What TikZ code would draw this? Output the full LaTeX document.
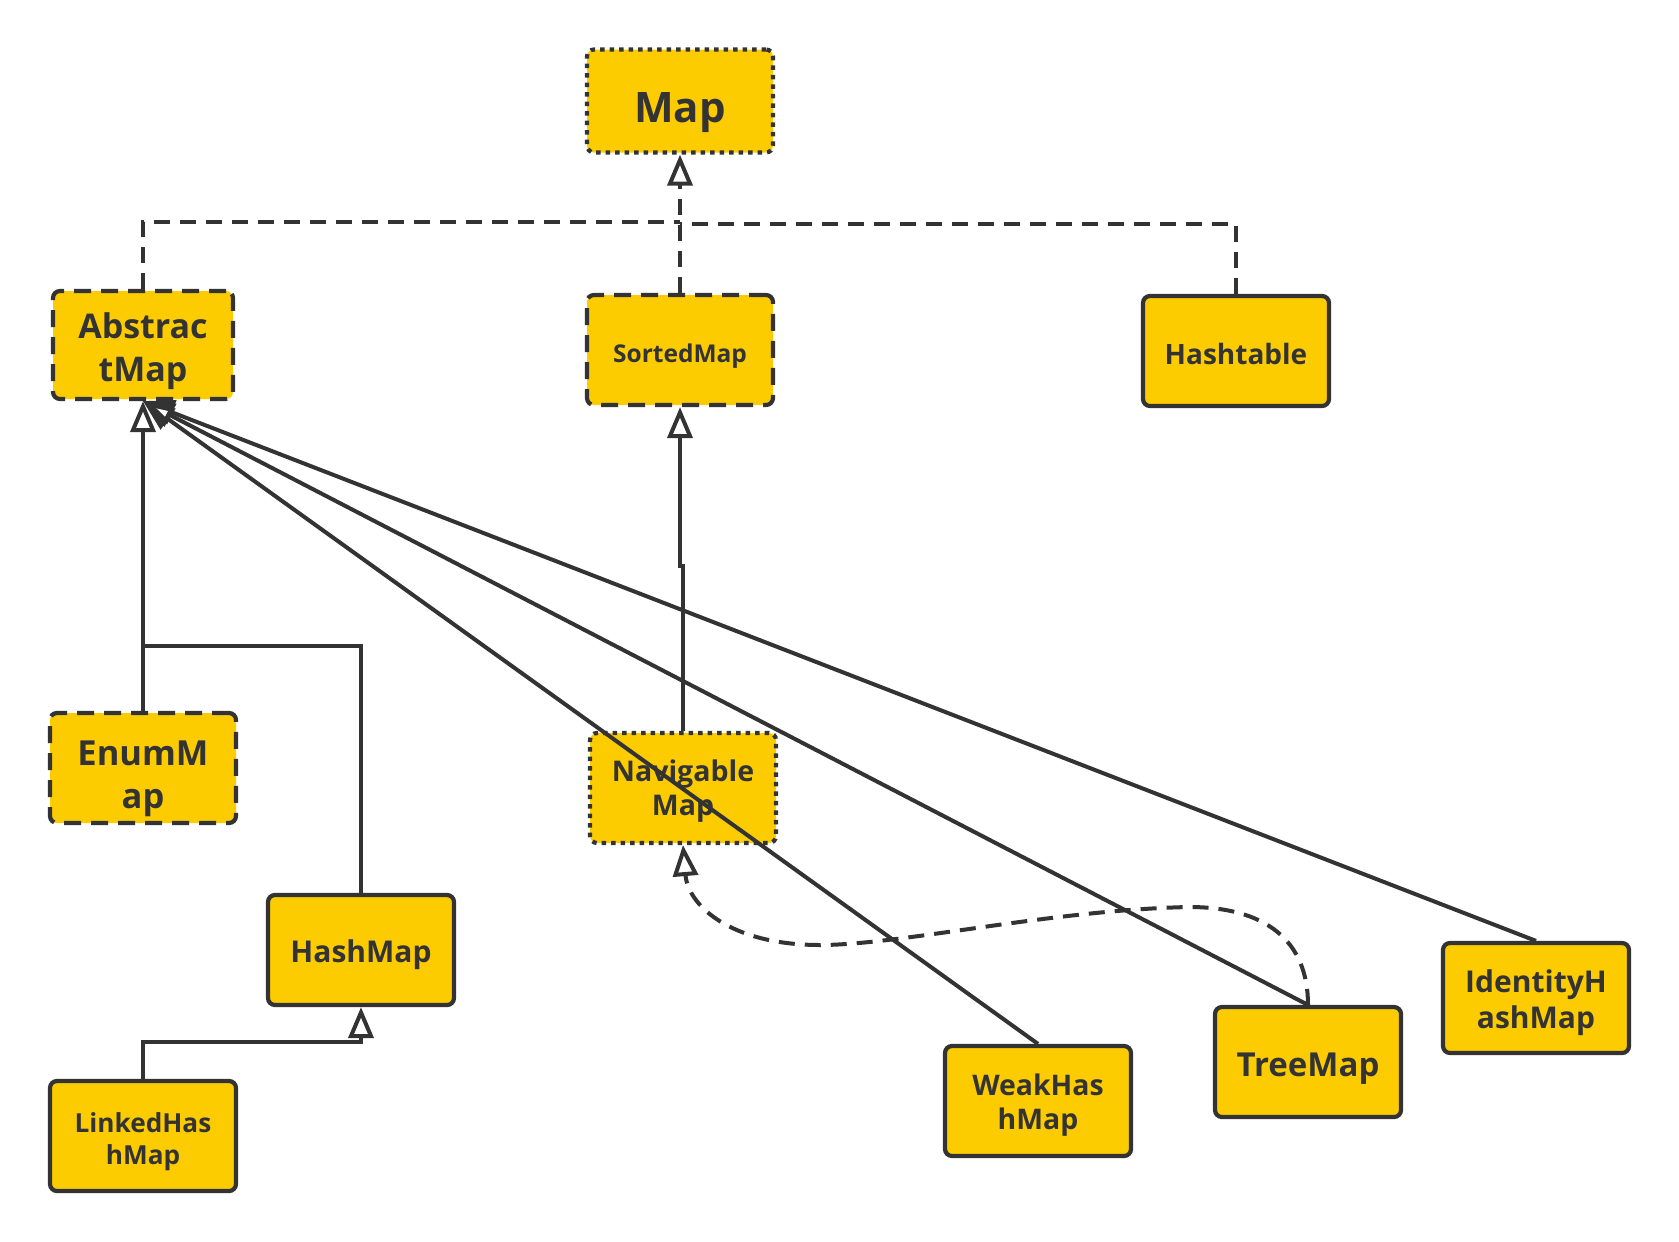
\documentclass[tikz,border=0pt]{standalone}
\usepackage{fontspec}
\setmainfont{Open Sans}
\usepackage{tikz}
\usetikzlibrary{arrows.meta,positioning,calc}
\definecolor{boxfill}{RGB}{253,204,0}
\definecolor{ink}{RGB}{51,51,51}
\tikzset{
  cls/.style={draw=ink,fill=boxfill,line width=4.2pt,rounded corners=7pt,text width=172pt,align=center,text=ink,font=\bfseries,minimum width=186pt,minimum height=110pt,inner sep=2pt},
  lift/.style={execute at begin node={\rule{0pt}{#1}}},
  lift/.default=1.1em,
  iface/.style={cls,dash pattern=on 4.5pt off 5pt},
  abst/.style={cls,dash pattern=on 17pt off 10pt},
  inh/.style={draw=ink,line width=4pt,-{Triangle[open,length=31pt,width=25pt]}},
  real/.style={inh,dash pattern=on 16pt off 10pt},
  lnk/.style={draw=ink,line width=4pt}
}
\begin{document}
\begin{tikzpicture}[x=1pt,y=-1pt]
\useasboundingbox[fill=white] (0,0) rectangle (1679,1242);
% interfaces and abstract classes
\node[iface,lift=1.25em,minimum height=103pt,font=\bfseries\fontsize{42}{50}\selectfont] (map) at (680,101) {Map};
\node[abst,lift=1.14em,minimum width=180pt,minimum height=108pt,font=\bfseries\fontsize{34}{43}\selectfont] (abs) at (143,345) {Abstrac\\tMap};
\node[abst,lift=1.28em,font=\bfseries\fontsize{24.5}{31}\selectfont] (sorted) at (680,350) {SortedMap};
\node[abst,lift=1.34em,font=\bfseries\fontsize{34.5}{43}\selectfont] (enum) at (143,768) {EnumM\\ap};
\node[iface,lift=0.98em,font=\bfseries\fontsize{28.5}{34}\selectfont] (nav) at (683,788) {Navigable\\Map};
% concrete classes
\node[cls,lift=0.95em,font=\bfseries\fontsize{28}{35}\selectfont] (ht) at (1236,351) {Hashtable};
\node[cls,lift,font=\bfseries\fontsize{30}{37}\selectfont] (hash) at (361,950) {HashMap};
\node[cls,lift=1.17em,font=\bfseries\fontsize{26.2}{32}\selectfont] (lhm) at (143,1136) {LinkedHas\\hMap};
\node[cls,lift=1.06em,font=\bfseries\fontsize{28.4}{34}\selectfont] (weak) at (1038,1101) {WeakHas\\hMap};
\node[cls,lift,font=\bfseries\fontsize{33}{42}\selectfont] (tree) at (1308,1062) {TreeMap};
\node[cls,lift=1.05em,font=\bfseries\fontsize{30}{36}\selectfont] (ident) at (1536,998) {IdentityH\\ashMap};
% junctions
\coordinate (mj) at (680,222);
\coordinate (hj) at (143,646);
% realisation of Map
\draw[real] (sorted.north) -- (map.south);
\draw[real,-] (abs.north) |- (mj);
\draw[real,-] (ht.north) |- ($(mj)+(0,2)$);
% AbstractMap subclasses
\draw[inh] (enum.north) -- (abs.south);
\draw[lnk] (hash.north) |- (hj);
\foreach \c in {weak,tree,ident}
  \draw[inh] (\c.north) -- (abs.south);
% the rest
\draw[inh] (nav.north) -- ++(0,-165) -| (sorted.south);
\draw[inh] (lhm.north) |- (361,1042) -- (hash.south);
\draw[real] (tree.north) .. controls (1308,940) and (1265,907) .. (1189,907)
  .. controls (1050,910) and (900,945) .. (820,945)
  .. controls (730,945) and (688,905) .. (nav.south);
\end{tikzpicture}
\end{document}
